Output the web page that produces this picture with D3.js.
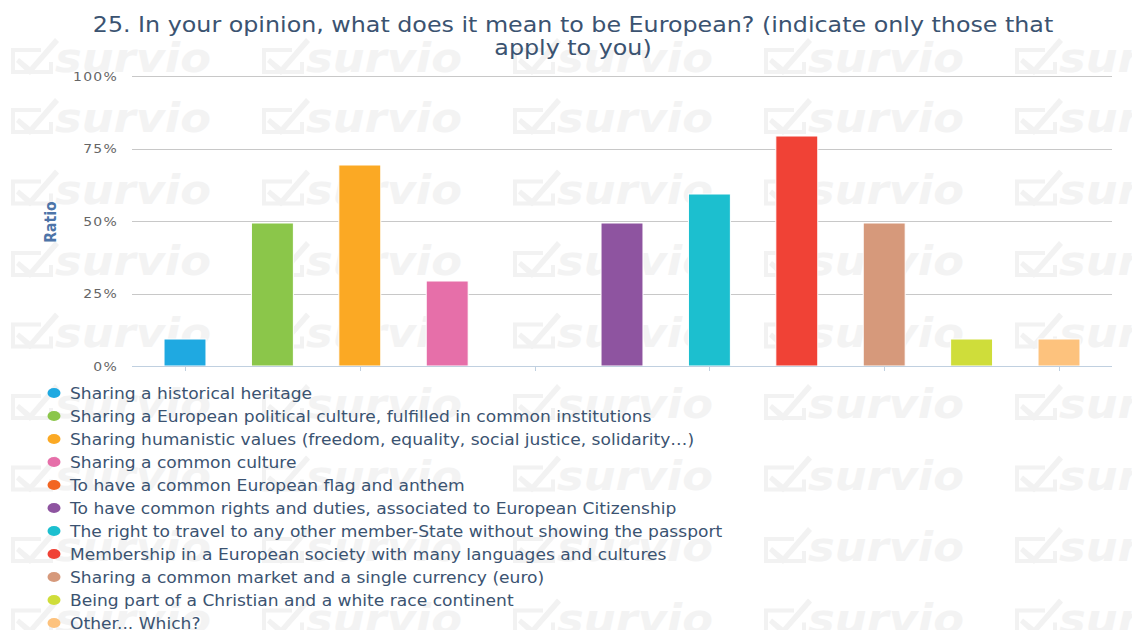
<!DOCTYPE html>
<html>
<head>
<meta charset="utf-8">
<script src="https://cdn.jsdelivr.net/npm/d3@7"></script>
<style>
  html, body { margin: 0; padding: 0; background: #ffffff; }
  svg { display: block; }
  text { font-family: "DejaVu Sans", Verdana, sans-serif; }
</style>
</head>
<body>
<svg id="chart" width="1132" height="630"></svg>
<script>
// ---- data ----
const titleLines = [
  "25. In your opinion, what does it mean to be European? (indicate only those that",
  "apply to you)"
];
const categories = [
  "Sharing a historical heritage",
  "Sharing a European political culture, fulfilled in common institutions",
  "Sharing humanistic values (freedom, equality, social justice, solidarity\u2026)",
  "Sharing a common culture",
  "To have a common European flag and anthem",
  "To have common rights and duties, associated to European Citizenship",
  "The right to travel to any other member-State without showing the passport",
  "Membership in a European society with many languages and cultures",
  "Sharing a common market and a single currency (euro)",
  "Being part of a Christian and a white race continent",
  "Other... Which?"
];
const values = [0.10, 0.50, 0.70, 0.30, 0.00, 0.50, 0.60, 0.80, 0.50, 0.10, 0.10];
const colors = ["#1fa9e1", "#8bc64a", "#fba924", "#e66fa9", "#f26522", "#8e54a0",
                "#1cbfcf", "#f04236", "#d6997b", "#cfdd3a", "#fdc27d"];
const yTicks = [0, 0.25, 0.5, 0.75, 1];
const yTickLabels = ["0%", "25%", "50%", "75%", "100%"];
const yAxisTitle = "Ratio";
const watermarkText = "survio";

// ---- layout ----
const svg = d3.select("#chart");
const SX = 1.14; // horizontal stretch of text in reference
const plot = { left: 132, right: 1112, top: 76, bottom: 366 };
const barInset = 2; // bars sit slightly below their gridline in reference

const x = d3.scaleBand()
  .domain(categories)
  .range([141.3, 1102.7])
  .paddingInner(0.52)
  .paddingOuter(0.26);
const y = d3.scaleLinear().domain([0, 1]).range([plot.bottom, plot.top]);

// ---- watermark ----
const wm = svg.append("g").attr("class", "watermark");
const wmRows = [72].concat(d3.range(9).map(i => 132 + i * 71.5));
const wmCols = d3.range(5).map(i => 11 + i * 251);
wmRows.forEach(by => {
  wmCols.forEach(bx => {
    const g = wm.append("g").attr("transform", `translate(${bx},${by})`);
    g.append("path")
      .attr("d", "M30,-22 L2,-22 L2,0 L40,0 L40,-10")
      .attr("fill", "none").attr("stroke", "#f2f2f2").attr("stroke-width", 4);
    g.append("path")
      .attr("d", "M8,-14 L19,-5 L44,-34 L48,-30 L19,3 L5,-10 Z")
      .attr("fill", "#f2f2f2");
    g.append("text")
      .attr("transform", `translate(44,0) scale(1.12,1)`)
      .attr("font-size", 40).attr("font-weight", "bold").attr("font-style", "italic")
      .attr("fill", "#f3f3f3")
      .text(watermarkText);
  });
});

// ---- gridlines ----
svg.append("g").selectAll("line")
  .data(yTicks.filter(t => t > 0))
  .join("line")
  .attr("x1", plot.left).attr("x2", plot.right)
  .attr("y1", d => Math.round(y(d)) + 0.5).attr("y2", d => Math.round(y(d)) + 0.5)
  .attr("stroke", "#c8c8c8").attr("stroke-width", 1);

// ---- bars ----
svg.append("g").selectAll("rect")
  .data(values)
  .join("rect")
  .attr("x", (d, i) => x(categories[i]))
  .attr("width", x.bandwidth())
  .attr("y", d => y(d) + barInset)
  .attr("height", d => Math.max(0, y(0) - y(d) - barInset))
  .attr("fill", (d, i) => colors[i])
  .attr("stroke", "#ffffff").attr("stroke-width", 1);

// ---- x axis ----
const xAxisG = svg.append("g");
xAxisG.append("line")
  .attr("x1", plot.left).attr("x2", plot.right)
  .attr("y1", plot.bottom + 0.5).attr("y2", plot.bottom + 0.5)
  .attr("stroke", "#c0d0e0");
xAxisG.selectAll("line.tick")
  .data(categories.filter((c, i) => i % 2 === 0))
  .join("line").attr("class", "tick")
  .attr("x1", d => Math.round(x(d) + x.bandwidth() / 2) + 0.5)
  .attr("x2", d => Math.round(x(d) + x.bandwidth() / 2) + 0.5)
  .attr("y1", plot.bottom).attr("y2", plot.bottom + 5)
  .attr("stroke", "#c0d0e0");

// ---- y axis labels ----
svg.append("g").selectAll("g")
  .data(yTicks)
  .join("g")
  .attr("transform", (d, i) => `translate(118,${y(d) + 4.5}) scale(1.12,1)`)
  .append("text")
  .attr("text-anchor", "end")
  .attr("font-size", 12.5)
  .attr("letter-spacing", 1.1)
  .attr("fill", "#666666")
  .text((d, i) => yTickLabels[i]);

svg.append("text")
  .attr("transform", `translate(56,222) rotate(-90) scale(1,1.15)`)
  .attr("text-anchor", "middle")
  .attr("font-size", 14).attr("font-weight", "bold")
  .attr("fill", "#4d74a8")
  .text(yAxisTitle);

// ---- title ----
svg.append("g").selectAll("g")
  .data(titleLines)
  .join("g")
  .attr("transform", (d, i) => `translate(573,${32 + i * 23}) scale(1.16,1)`)
  .append("text")
  .attr("text-anchor", "middle")
  .attr("font-size", 20.5)
  .attr("fill", "#3b5371")
  .text(d => d);

// ---- legend ----
const leg = svg.append("g").selectAll("g")
  .data(categories)
  .join("g")
  .attr("transform", (d, i) => `translate(0,${399 + i * 23})`);
leg.append("ellipse")
  .attr("cx", 54).attr("cy", -6)
  .attr("rx", 6.5).attr("ry", 5)
  .attr("fill", (d, i) => colors[i]);
leg.append("text")
  .attr("transform", `translate(70,0) scale(${SX},1)`)
  .attr("font-size", 15)
  .attr("fill", "#3b5371")
  .text(d => d);
</script>
</body>
</html>
